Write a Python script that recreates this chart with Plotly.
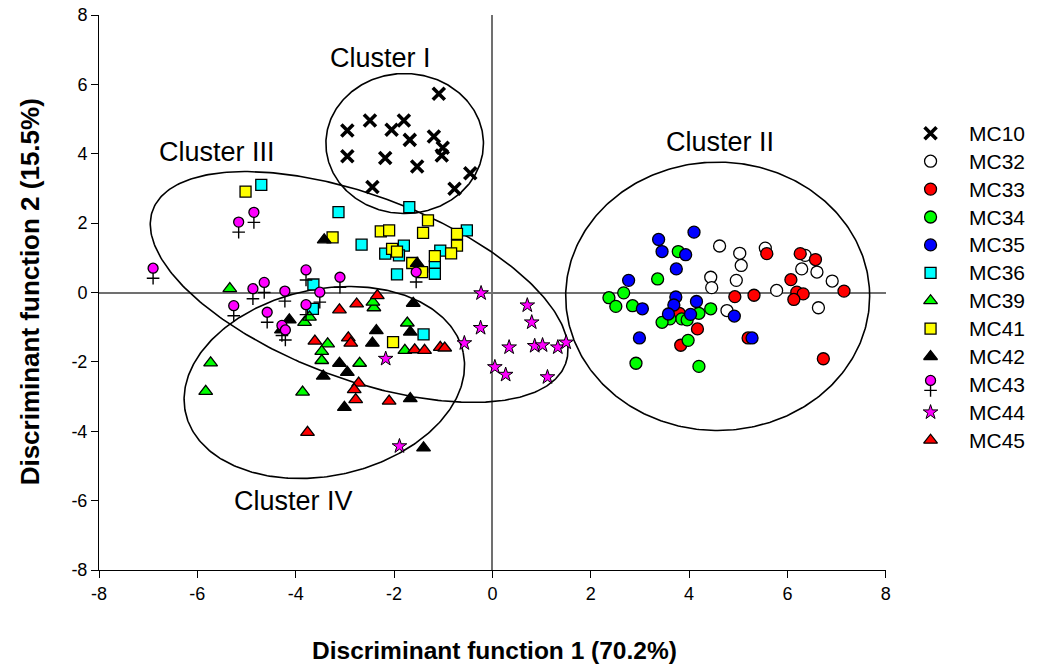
import numpy as np
import plotly.graph_objects as go

# ---------------- data ----------------
MC10_x = [-1.09, -2.49, -1.80, -2.95, -2.05, -1.68, -1.19, -1.01, -1.03, -2.95, -2.18, -1.53, -0.45, -0.77, -2.44]
MC10_y = [5.73, 4.96, 4.96, 4.67, 4.69, 4.40, 4.50, 4.17, 3.95, 3.93, 3.88, 3.63, 3.44, 2.99, 3.04]

MC32_x = [4.62, 5.03, 5.55, 5.06, 6.36, 6.29, 6.60, 6.91, 4.44, 4.46, 4.96, 5.78, 4.77, 6.63]
MC32_y = [1.34, 1.13, 1.28, 0.78, 1.07, 0.68, 0.59, 0.33, 0.44, 0.14, 0.35, 0.06, -0.52, -0.44]

MC33_x = [5.58, 6.26, 6.57, 6.07, 4.93, 5.32, 6.19, 6.32, 6.13, 7.15, 4.17, 3.83, 5.20, 6.73, 3.80]
MC33_y = [1.12, 1.12, 0.95, 0.37, -0.12, -0.08, 0.01, -0.04, -0.20, 0.04, -1.05, -1.52, -1.31, -1.91, -0.60]

MC34_x = [3.78, 3.36, 2.67, 2.37, 2.51, 2.85, 4.44, 4.20, 3.85, 3.61, 3.45, 3.98, 2.92, 4.20, 3.96]
MC34_y = [1.18, 0.39, -0.01, -0.15, -0.40, -0.38, -0.47, -0.60, -0.76, -0.76, -0.86, -1.38, -2.04, -2.13, -0.79]

MC35_x = [4.10, 3.38, 3.45, 3.93, 3.74, 2.77, 3.73, 3.69, 4.15, 3.05, 3.58, 4.03, 4.92, 2.99, 5.28]
MC35_y = [1.74, 1.53, 1.18, 1.09, 0.68, 0.35, -0.13, -0.36, -0.26, -0.47, -0.62, -0.63, -0.68, -1.31, -1.31]

MC36_x = [-4.70, -3.13, -3.64, -1.69, -2.66, -1.80, -2.18, -1.90, -1.94, -0.52, -1.17, -1.17, -1.06, -3.65, -1.40]
MC36_y = [3.10, 2.32, 0.23, 2.46, 1.38, 1.35, 1.12, 1.07, 0.52, 1.79, 0.75, 0.54, 1.21, -0.47, -1.21]

MC39_x = [-5.34, -3.82, -3.72, -2.41, -2.43, -1.73, -3.35, -3.47, -3.47, -2.70, -1.78, -5.73, -5.83, -3.86]
MC39_y = [0.11, -0.86, -0.71, -0.44, -0.28, -0.88, -1.48, -1.70, -1.96, -2.04, -1.67, -2.03, -2.85, -2.87]

MC41_x = [-5.02, -3.25, -2.27, -2.10, -1.31, -1.41, -2.04, -1.94, -0.72, -0.72, -0.84, -1.17, -1.63, -1.43, -2.02]
MC41_y = [2.91, 1.59, 1.76, 1.79, 2.08, 1.72, 1.26, 1.18, 1.69, 1.35, 1.13, 1.05, 0.85, 0.59, -1.43]

MC42_x = [-3.42, -1.53, -4.13, -4.29, -1.61, -2.36, -1.67, -2.44, -3.11, -2.95, -3.44, -1.67, -3.01, -1.40]
MC42_y = [1.52, 0.84, -0.79, -1.08, -0.31, -1.10, -1.14, -1.46, -2.04, -2.30, -2.41, -3.06, -3.31, -4.48]

MC43_x = [-4.85, -5.16, -6.90, -3.79, -3.10, -4.64, -4.87, -4.22, -3.51, -5.26, -4.58, -3.79, -4.28, -4.21, -1.55]
MC43_y = [2.31, 2.03, 0.70, 0.65, 0.44, 0.29, 0.11, 0.04, 0.01, -0.38, -0.57, -0.35, -0.95, -1.08, 0.59]

MC44_x = [-0.23, 0.71, 0.80, -0.24, -0.57, 0.34, 0.86, 1.02, 1.33, 1.50, 0.05, 0.27, 1.12, -2.17, -1.89]
MC44_y = [-0.02, -0.37, -0.86, -1.02, -1.46, -1.58, -1.54, -1.52, -1.58, -1.44, -2.15, -2.37, -2.44, -1.91, -4.43]

MC45_x = [-2.34, -2.76, -3.11, -3.61, -2.93, -2.88, -1.58, -1.38, -1.06, -0.97, -2.72, -2.81, -2.78, -2.10, -3.76]
MC45_y = [-0.09, -0.33, -0.50, -1.40, -1.31, -1.46, -1.65, -1.67, -1.58, -1.60, -2.61, -2.80, -3.09, -3.13, -4.03]

series_names = ["MC10", "MC32", "MC33", "MC34", "MC35", "MC36", "MC39", "MC41", "MC42", "MC43", "MC44", "MC45"]
series_x = [MC10_x, MC32_x, MC33_x, MC34_x, MC35_x, MC36_x, MC39_x, MC41_x, MC42_x, MC43_x, MC44_x, MC45_x]
series_y = [MC10_y, MC32_y, MC33_y, MC34_y, MC35_y, MC36_y, MC39_y, MC41_y, MC42_y, MC43_y, MC44_y, MC45_y]

tick_vals = [-8, -6, -4, -2, 0, 2, 4, 6, 8]
tick_text = [str(v) for v in tick_vals]

cluster_labels = ["Cluster I", "Cluster II", "Cluster III", "Cluster IV"]
cluster_label_x = [-2.27, 4.63, -5.60, -4.05]
cluster_label_y = [6.77, 4.35, 4.04, -6.0]
# ellipse: centre (data units), semi-axes (screen px), rotation (deg, screen)
ell_cx = [-1.784, 4.581, -2.710, -3.418]
ell_cy = [4.295, -0.110, 0.159, -2.594]
ell_a = [79.2, 152.8, 221.3, 142.8]
ell_b = [70.0, 134.2, 91.9, 93.3]
ell_phi = [0.0, 0.0, 20.3, -12.1]

# ---------------- styles ----------------
styles = {
    "MC10": dict(symbol="x-thin", size=12, color="black", line=dict(color="black", width=3.6)),
    "MC32": dict(symbol="circle", size=12, color="white", line=dict(color="black", width=1.3)),
    "MC33": dict(symbol="circle", size=12, color="#FF0000", line=dict(color="black", width=1.3)),
    "MC34": dict(symbol="circle", size=12, color="#00FF00", line=dict(color="black", width=1.3)),
    "MC35": dict(symbol="circle", size=12, color="#0000FF", line=dict(color="black", width=1.3)),
    "MC36": dict(symbol="square", size=11, color="#00FFFF", line=dict(color="black", width=1.3)),
    "MC39": dict(symbol="triangle-up", size=12, color="#00FF00", line=dict(color="black", width=1.3)),
    "MC41": dict(symbol="square", size=11, color="#FFFF00", line=dict(color="black", width=1.3)),
    "MC42": dict(symbol="triangle-up", size=12, color="black", line=dict(color="black", width=1.3)),
    "MC43": dict(symbol="circle", size=10, color="#FF00FF", line=dict(color="black", width=1.3)),
    "MC44": dict(symbol="star", size=11, color="#FF00FF", line=dict(color="black", width=1.0)),
    "MC45": dict(symbol="triangle-up", size=12, color="#FF0000", line=dict(color="black", width=1.3)),
}
cross_style = dict(symbol="cross-thin", size=9, color="black", line=dict(color="black", width=1.4))

W, H = 1039, 666
PLOT_X0, PLOT_X1 = 99, 890      # page px of the plot area
PLOT_Y0, PLOT_Y1 = 15, 570
ML = PLOT_X0
MT = PLOT_Y0
MR = 0
MB = H - PLOT_Y1
PLOT_W = PLOT_X1 - PLOT_X0
PLOT_H = PLOT_Y1 - PLOT_Y0
paper_w = W - ML - MR
PX_X = PLOT_W / 16.0
PX_Y = PLOT_H / 16.0
CROSS_OFF_PX = 10.0

FONT = "Liberation Sans, Arial, sans-serif"

fig = go.Figure()

# ellipses
for cx, cy, a, b, ph in zip(ell_cx, ell_cy, ell_a, ell_b, ell_phi):
    t = np.linspace(0, 2 * np.pi, 361)
    p = np.deg2rad(ph)
    dx = a * np.cos(t) * np.cos(p) - b * np.sin(t) * np.sin(p)
    dy = a * np.cos(t) * np.sin(p) + b * np.sin(t) * np.cos(p)
    fig.add_trace(go.Scatter(x=cx + dx / PX_X, y=cy - dy / PX_Y, mode="lines",
                             line=dict(color="black", width=1.6), hoverinfo="skip",
                             showlegend=False))

# data
for name, xs, ys in zip(series_names, series_x, series_y):
    if name == "MC43":
        fig.add_trace(go.Scatter(x=xs, y=[v - CROSS_OFF_PX / PX_Y for v in ys], mode="markers",
                                 marker=cross_style, showlegend=False, hoverinfo="skip"))
    fig.add_trace(go.Scatter(x=xs, y=ys, mode="markers", name=name, marker=styles[name],
                             showlegend=False))

# manual legend on an overlay axis measured in page pixels
LEG_X0 = 905
leg_sym_x = 935
leg_txt_x = 972
leg_row0 = 133.3
leg_step = 27.9
rows_v = [leg_row0 + i * leg_step for i in range(len(series_names))]
for name, v in zip(series_names, rows_v):
    if name == "MC43":
        fig.add_trace(go.Scatter(x=[leg_sym_x], y=[v - 4 + CROSS_OFF_PX], mode="markers",
                                 marker=cross_style, xaxis="x2", yaxis="y2",
                                 showlegend=False, hoverinfo="skip"))
        vv = v - 4
    else:
        vv = v
    fig.add_trace(go.Scatter(x=[leg_sym_x], y=[vv], mode="markers", marker=styles[name],
                             xaxis="x2", yaxis="y2", showlegend=False, hoverinfo="skip"))
    fig.add_annotation(x=leg_txt_x, y=v, xref="x2", yref="y2", text=name, showarrow=False,
                       xanchor="left", yanchor="middle", font=dict(family=FONT, size=21, color="black"))

for lab, lx, ly in zip(cluster_labels, cluster_label_x, cluster_label_y):
    fig.add_annotation(x=lx, y=ly, xref="x", yref="y", text=lab, showarrow=False,
                       xanchor="center", yanchor="middle",
                       font=dict(family=FONT, size=27, color="black"))

def paper_x(px):
    return (px - PLOT_X0) / paper_w

def paper_y(py):
    return (PLOT_Y1 - py) / PLOT_H

fig.add_annotation(x=paper_x(497), y=paper_y(650), xref="paper", yref="paper",
                   text="<b>Discriminant function 1 (70.2%)</b>", showarrow=False,
                   xanchor="center", yanchor="middle",
                   font=dict(family=FONT, size=24.5, color="black"))
fig.add_annotation(x=paper_x(30), y=paper_y(292), xref="paper", yref="paper",
                   text="<b>Discriminant function 2 (15.5%)</b>", showarrow=False, textangle=-90,
                   xanchor="center", yanchor="middle",
                   font=dict(family=FONT, size=26, color="black"))

axis_common = dict(range=[-8, 8], tickmode="array", tickvals=tick_vals, ticktext=tick_text,
                   ticks="outside", ticklen=7, tickwidth=1, tickcolor="black",
                   showline=True, linecolor="black", linewidth=1, showgrid=False,
                   zeroline=True, zerolinecolor="#707070", zerolinewidth=1.5,
                   ticklabeloverflow="allow",
                   tickfont=dict(family=FONT, size=18, color="black"), mirror=False)

leg_dom0 = paper_x(LEG_X0)
fig.update_layout(
    width=W, height=H,
    margin=dict(l=ML, r=MR, t=MT, b=MB, pad=0),
    paper_bgcolor="white", plot_bgcolor="white",
    showlegend=False,
    xaxis=dict(domain=[0, PLOT_W / paper_w], **axis_common),
    yaxis=dict(domain=[0, 1], **axis_common),
    xaxis2=dict(domain=[leg_dom0, 1], range=[LEG_X0, PLOT_X0 + paper_w], visible=False,
                anchor="y2", fixedrange=True),
    yaxis2=dict(domain=[0, 1], range=[PLOT_Y1, PLOT_Y0], visible=False, anchor="x2",
                fixedrange=True),
)

fig.write_html("out.html", config={"displayModeBar": False},
               post_script="document.body.style.margin='0';document.body.style.overflow='hidden';")
